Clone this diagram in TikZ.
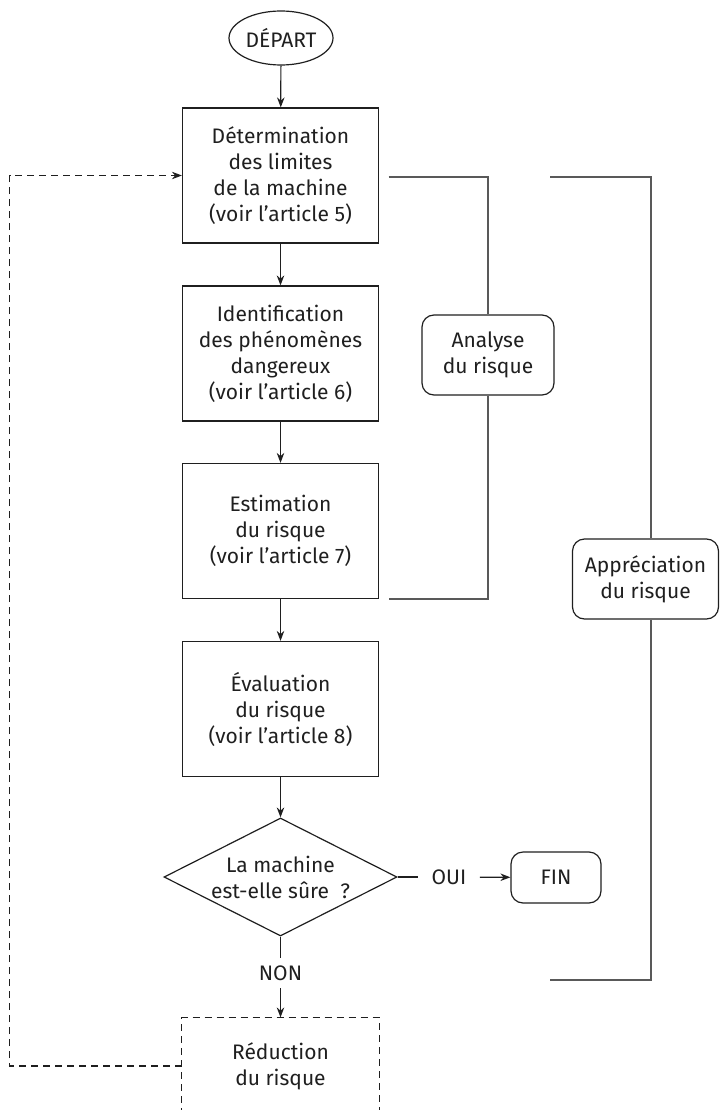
\documentclass[tikz,border=0pt]{standalone}
\usepackage{fontspec}
\setmainfont{Fira Sans}
\usetikzlibrary{shapes.geometric}
\usetikzlibrary{arrows.meta}
\usetikzlibrary{calc}

\begin{document}
\begin{tikzpicture}[x=1pt, y=-1pt, color=black!88, line width=1.2pt, >={Stealth[length=10pt,width=7.5pt]},
    every node/.style={font=\fontsize{21}{26}\selectfont, align=center},
    stepbox/.style={rectangle, draw, minimum width=196pt, minimum height=135pt, inner sep=0pt},
    decision/.style={diamond, aspect=2, draw, minimum width=233pt, minimum height=118pt, inner sep=0pt},
    roundbox/.style={rectangle, rounded corners=12pt, draw, inner sep=0pt},
    lbl/.style={inner xsep=13pt, inner ysep=7pt},
    brk/.style={draw=black!65, line width=1.2pt},
    dashline/.style={line width=1.1pt, dash pattern=on 7pt off 5pt}]
        \useasboundingbox (0,0) rectangle (721,1110);

        \node[ellipse, draw, minimum width=104pt, minimum height=54pt, inner sep=0pt] (depart) at (281, 38) {DÉPART};

        \node[stepbox] (b1) at (280.5, 175.5) {Détermination\\des limites\\de la machine\\(voir l’article 5)};
        \node[stepbox] (b2) at (280.5, 353.5) {Identification\\des phénomènes\\dangereux\\(voir l’article 6)};
        \node[stepbox] (b3) at (280.5, 531) {Estimation\\du risque\\(voir l’article 7)};
        \node[stepbox] (b4) at (280.5, 709) {Évaluation\\du risque\\(voir l’article 8)};

        \node[decision] (dia) at (280.5, 877) {La machine\\est-elle sûre~~?};
        \node[lbl] (oui) at (449, 877) {OUI};
        \node[roundbox, minimum width=90pt, minimum height=51pt] (fin) at (556, 877.5) {FIN};
        \node[lbl] (non) at (280.5, 973) {NON};

        \node[minimum width=196pt, minimum height=96pt, inner sep=0pt] (reduc) at (280.5, 1066) {Réduction\\du risque};

        \node[roundbox, minimum width=132pt, minimum height=80pt] (analyse) at (488, 355) {Analyse\\du risque};
        \node[roundbox, minimum width=146pt, minimum height=80pt] (appr) at (645.5, 579) {Appréciation\\du risque};

        \draw[->] (depart) -- (b1);
        \draw[->] (b1) -- (b2);
        \draw[->] (b2) -- (b3);
        \draw[->] (b3) -- (b4);
        \draw[->] (b4) -- (dia);
        \draw (dia) -- (oui);
        \draw[->] (oui) -- (fin);
        \draw (dia) -- (non);
        \draw[->] (non) -- (reduc);

        \draw[dashline] (reduc.south west) -- (reduc.north west) -- (reduc.north east) -- (reduc.south east);
        \draw[dashline, ->] (reduc.west) -- ++(-172, 0) |- (b1.west);

        \coordinate (atop) at (388.5, 177);
        \coordinate (abot) at (388.5, 599);
        \draw[brk] (atop) -| (analyse.north);
        \draw[brk] (analyse.south) |- (abot);

        \coordinate (ptop) at (550, 177);
        \coordinate (pbot) at (550, 980);
        \draw[brk] (ptop) -| ($(appr.north)+(5.5,0)$);
        \draw[brk] ($(appr.south)+(5.5,0)$) |- (pbot);
      \end{tikzpicture}
\end{document}
